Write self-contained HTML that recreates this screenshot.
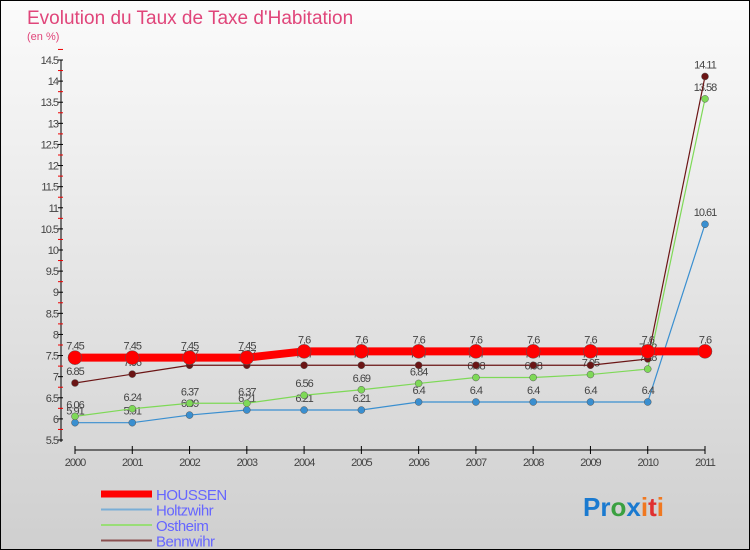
<!DOCTYPE html>
<html><head><meta charset="utf-8"><style>
body{margin:0}
#c{width:748px;height:548px;border:1px solid #000;background:linear-gradient(#fbfbfb,#cfcfcf);position:relative;font-family:"Liberation Sans",sans-serif}
</style></head><body>
<div id="c">
<svg id="s" width="748" height="548" style="position:absolute;left:0;top:0">
<text x="26" y="23" font-size="19" fill="#e0457a">Evolution du Taux de Taxe d'Habitation</text>
<text x="26" y="39" font-size="11" fill="#e0457a">(en %)</text>
</svg>
</div>
<script>
const years=[2000,2001,2002,2003,2004,2005,2006,2007,2008,2009,2010,2011];
const houssen=[7.45,7.45,7.45,7.45,7.6,7.6,7.6,7.6,7.6,7.6,7.6,7.6];
const holtzwihr=[5.91,5.91,6.09,6.21,6.21,6.21,6.4,6.4,6.4,6.4,6.4,10.61];
const ostheim=[6.06,6.24,6.37,6.37,6.56,6.69,6.84,6.98,6.98,7.05,7.18,13.58];
const bennwihr=[6.85,7.06,7.27,7.27,7.27,7.27,7.27,7.27,7.27,7.27,7.42,14.11];
const yTicks=[5.5,6,6.5,7,7.5,8,8.5,9,9.5,10,10.5,11,11.5,12,12.5,13,13.5,14,14.5];
const s=document.getElementById('s');const NS='http://www.w3.org/2000/svg';
function X(i){return 74+i*(630/11);}
function Y(v){return 439-(v-5.5)*(380/9);}
function el(t,a,p){const e=document.createElementNS(NS,t);for(const k in a)e.setAttribute(k,a[k]);(p||s).appendChild(e);return e;}
let e=el('line',{x1:60,y1:59,x2:60,y2:441,stroke:'#000'});


e=el('line',{x1:74,y1:449,x2:704,y2:449,stroke:'#000'});


yTicks.forEach(v=>{
 el('line',{x1:57,y1:Y(v),x2:62,y2:Y(v),stroke:'#000'});
 el('line',{x1:57,y1:Y(v+0.25),x2:62,y2:Y(v+0.25),stroke:'#e00'});
 const t=el('text',{x:57,y:Y(v)+4,'font-size':11,'text-anchor':'end',fill:'#444','letter-spacing':'-1'});t.textContent=v;
 
 
});
years.forEach((y,i)=>{
 el('line',{x1:X(i),y1:445,x2:X(i),y2:453,stroke:'#000'});
 const t=el('text',{x:X(i),y:465,'font-size':11,'text-anchor':'middle',fill:'#444','letter-spacing':'-1'});t.textContent=y;
 
 
});
function series(d,col,w,r,name,lab){
 const g=el('g',{});
 
 
 el('polyline',{points:d.map((v,i)=>X(i)+','+Y(v)).join(' '),fill:'none',stroke:col,'stroke-width':w},g);
 d.forEach((v,i)=>{
  const c=el('circle',{cx:X(i),cy:Y(v),r:r,fill:col,stroke:'#555','stroke-width':0.5},g);
  
  
  const t=el('text',{x:X(i),y:Y(v)-8,'font-size':11,'text-anchor':'middle',fill:'#444','letter-spacing':'-1'},g);t.textContent=v;
 });
}
series(holtzwihr,'#3a8fd0',1.2,3.5,'holtzwihr-series');
series(ostheim,'#7ed957',1.2,3.5,'ostheim-series');
series(bennwihr,'#6b1515',1.2,3.5,'bennwihr-series');
series(houssen,'#ff0000',8,7,'houssen-series');
const leg=[['HOUSSEN','#ff0000',7],['Holtzwihr','#7aaed6',2],['Ostheim','#99dd77',2],['Bennwihr','#8b5050',2]];
leg.forEach((l,i)=>{
 const y=493+i*15.5;
 const g=el('g',{});
 
 
 el('line',{x1:100,y1:y,x2:151,y2:y,stroke:l[1],'stroke-width':l[2]},g);
 const t=el('text',{x:155,y:y+6,'font-size':15,fill:'#6666ff','letter-spacing':'-0.5'},g);t.textContent=l[0];
});
const p=el('text',{x:582,y:515,'font-size':26,'font-weight':'bold'});


[['Pr','#1a7ad0'],['o','#3aa040'],['x','#1a7ad0'],['i','#f07820'],['t','#e03030'],['i','#f07820']].forEach(a=>{const ts=el('tspan',{fill:a[1]},p);ts.textContent=a[0];});
</script>
</body></html>
